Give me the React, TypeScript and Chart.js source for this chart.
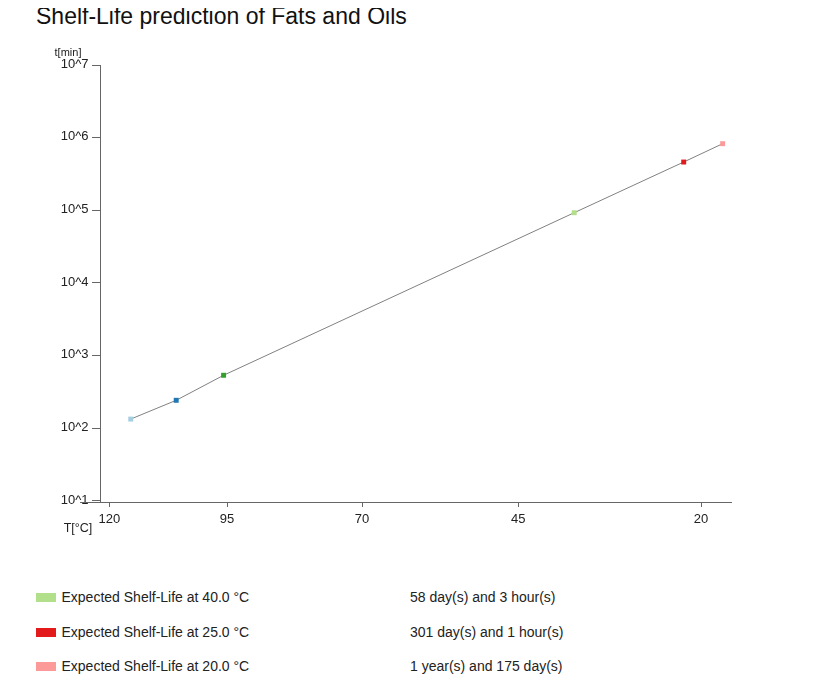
import React, { useEffect, useRef } from "react";
import { Chart, registerables } from "chart.js";

Chart.register(...registerables);

const TITLE = "Shelf-Life prediction of Fats and Oils";
const Y_AXIS_TITLE = "t[min]";
const X_AXIS_TITLE = "T[°C]";

const POINT_TEMPS_C = [115.2, 105.4, 95.7, 36.9, 22.2, 17.3];
const POINT_MINUTES = [134, 243, 537, 92700, 462000, 826000];
const POINT_COLORS = ["#a6cee3", "#1f78b4", "#33a02c", "#b2df8a", "#e31a1c", "#fb9a99"];

const X_TICK_TEMPS_C = [120, 95, 70, 45, 20];
const Y_TICK_EXPONENTS = [1, 2, 3, 4, 5, 6, 7];

const X_MIN_C = 122.12;
const X_MAX_C = 16.27;
const X_LINE_START_C = 126.75;
const Y_MIN = 9.68;
const Y_MAX = 1e7;

const LEGEND_LABELS = [
  "Expected Shelf-Life at 40.0 °C",
  "Expected Shelf-Life at 25.0 °C",
  "Expected Shelf-Life at 20.0 °C",
];
const LEGEND_VALUES = [
  "58 day(s) and 3 hour(s)",
  "301 day(s) and 1 hour(s)",
  "1 year(s) and 175 day(s)",
];
const LEGEND_COLORS = ["#b2df8a", "#e31a1c", "#fb9a99"];

const FONT = '"Liberation Sans", Arial, Helvetica, sans-serif';
const AXIS_COLOR = "#666";
const TEXT_COLOR = "#222";

// Arrhenius-type axis: position proportional to 1/T(K)
const toInv = (c: number) => 1000 / (c + 273.15);

const axisDecor = {
  id: "axisDecor",
  afterDraw(chart: any) {
    const { ctx, chartArea } = chart;
    const x = chart.scales.x;
    ctx.save();
    const yLine = Math.round(chartArea.bottom) + 0.5;
    const x0 = x.getPixelForValue(toInv(X_LINE_START_C));
    ctx.strokeStyle = AXIS_COLOR;
    ctx.lineWidth = 1;
    ctx.beginPath();
    ctx.moveTo(x0, yLine);
    ctx.lineTo(chartArea.left, yLine);
    ctx.stroke();

    ctx.fillStyle = TEXT_COLOR;
    ctx.textAlign = "center";
    ctx.textBaseline = "alphabetic";
    ctx.font = `11px ${FONT}`;
    ctx.fillText(Y_AXIS_TITLE, chartArea.left - 32, chartArea.top - 9);
    ctx.font = `12.5px ${FONT}`;
    ctx.fillText(X_AXIS_TITLE, chartArea.left - 22, chartArea.bottom + 30);
    ctx.restore();
  },
};

function ShelfLifeChart() {
  const ref = useRef<HTMLCanvasElement | null>(null);
  useEffect(() => {
    if (!ref.current) return;
    const chart = new Chart(ref.current, {
      type: "scatter",
      data: {
        datasets: [
          {
            data: POINT_TEMPS_C.map((t, i) => ({ x: toInv(t), y: POINT_MINUTES[i] })),
            showLine: true,
            borderColor: "#808080",
            borderWidth: 1,
            pointStyle: "rect",
            pointRadius: 3.5,
            pointBorderWidth: 0,
            pointBackgroundColor: POINT_COLORS,
            pointBorderColor: POINT_COLORS,
          } as any,
        ],
      },
      options: {
        animation: false,
        responsive: true,
        maintainAspectRatio: false,
        layout: { padding: { left: 20, right: 76, top: 17, bottom: 33 } },
        plugins: {
          legend: { display: false },
          tooltip: { enabled: false },
          title: { display: false },
        },
        scales: {
          x: {
            type: "linear",
            min: toInv(X_MIN_C),
            max: toInv(X_MAX_C),
            afterFit(s: any) {
              s.height = 30;
            },
            afterBuildTicks(s: any) {
              s.ticks = X_TICK_TEMPS_C.map((t) => ({ value: toInv(t) }));
            },
            ticks: {
              callback: (_v: any, i: number) => String(X_TICK_TEMPS_C[i]),
              font: { size: 13, family: FONT },
              color: TEXT_COLOR,
              padding: 5,
              maxRotation: 0,
              autoSkip: false,
            },
            grid: { drawOnChartArea: false, tickLength: 5, color: AXIS_COLOR },
            border: { color: AXIS_COLOR, width: 1 },
          },
          y: {
            type: "logarithmic",
            position: "left",
            min: Y_MIN,
            max: Y_MAX,
            afterFit(s: any) {
              s.width = 72;
            },
            afterBuildTicks(s: any) {
              s.ticks = Y_TICK_EXPONENTS.map((e) => ({ value: Math.pow(10, e) }));
            },
            ticks: {
              callback: (_v: any, i: number) => "10^" + Y_TICK_EXPONENTS[i],
              font: { size: 13, family: FONT },
              color: TEXT_COLOR,
              padding: 3.5,
              labelOffset: -1,
              autoSkip: false,
            },
            grid: { drawOnChartArea: false, tickLength: 8, color: AXIS_COLOR },
            border: { color: AXIS_COLOR, width: 1 },
          },
        },
      } as any,
      plugins: [axisDecor],
    });
    return () => chart.destroy();
  }, []);
  return <canvas ref={ref} />;
}

export default function App() {
  return (
    <div style={{ position: "relative", width: 799, height: 677, fontFamily: FONT, color: TEXT_COLOR }}>
      <div
        style={{
          position: "absolute",
          left: 28,
          top: -3,
          fontSize: 23,
          lineHeight: "23px",
          whiteSpace: "nowrap",
          color: "#111",
        }}
      >
        {TITLE}
      </div>
      <div style={{ position: "absolute", left: 0, top: 40, width: 799, height: 517 }}>
        <ShelfLifeChart />
      </div>
      {LEGEND_LABELS.map((label, i) => (
        <div
          key={label}
          style={{
            position: "absolute",
            left: 0,
            top: 580 + i * 34.5,
            width: 799,
            height: 18,
            fontSize: 14,
            lineHeight: "18px",
            whiteSpace: "nowrap",
          }}
        >
          <span
            style={{
              position: "absolute",
              left: 28,
              top: 5,
              width: 20,
              height: 9,
              background: LEGEND_COLORS[i],
            }}
          />
          <span style={{ position: "absolute", left: 53.5, top: 0 }}>{label}</span>
          <span style={{ position: "absolute", left: 402, top: 0 }}>{LEGEND_VALUES[i]}</span>
        </div>
      ))}
    </div>
  );
}
